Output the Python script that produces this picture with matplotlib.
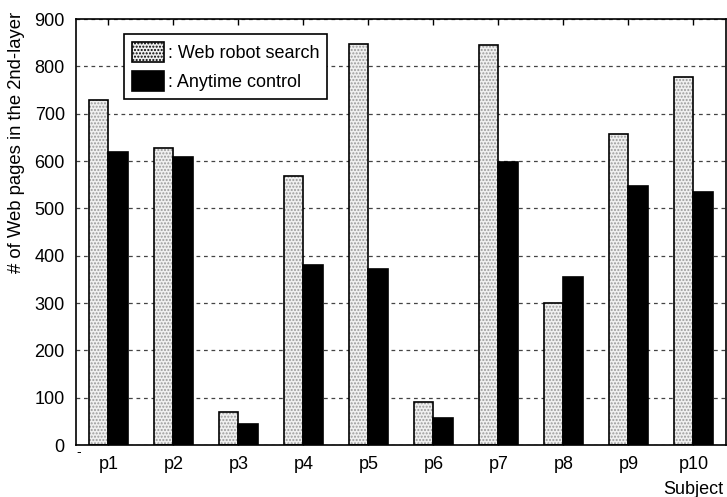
import matplotlib
matplotlib.use("Agg")
import matplotlib.pyplot as plt
from matplotlib.patches import Patch
import numpy as np

plt.rcParams['font.family'] = ['Liberation Sans', 'DejaVu Sans']

subjects = ['p1', 'p2', 'p3', 'p4', 'p5', 'p6', 'p7', 'p8', 'p9', 'p10']
web_robot = [730, 627, 70, 568, 848, 90, 845, 300, 658, 778]
anytime = [620, 608, 45, 380, 372, 57, 597, 355, 548, 535]
yticks = [0, 100, 200, 300, 400, 500, 600, 700, 800, 900]

FS = 13

fig = plt.figure(figsize=(7.27, 4.97), dpi=100)
ax = fig.add_axes([0.1045, 0.1046, 0.894, 0.857])

x = np.arange(1, len(subjects) + 1)
w = 0.3

# stippled fill for the search bars, then black outlines on top
ax.bar(x - w / 2, web_robot, w, color='#f0f0f0', hatch='.....',
       edgecolor='#9a9a9a', linewidth=0, zorder=3)
ax.bar(x - w / 2, web_robot, w, fill=False, edgecolor='black',
       linewidth=1.2, zorder=4)
ax.bar(x + w / 2, anytime, w, color='black', edgecolor='black',
       linewidth=1.2, zorder=4)

ax.set_xlim(0.5, 10.5)
ax.set_ylim(0, 900)
ax.set_xticks(x)
ax.set_xticklabels(subjects, fontsize=FS)
ax.set_yticks(yticks)
ax.set_yticklabels([str(v) for v in yticks], fontsize=FS)
ax.tick_params(axis='x', direction='in', top=True, bottom=True, length=4,
               width=1, pad=8)
ax.tick_params(axis='y', direction='in', left=True, right=False, length=0,
               pad=8)
ax.yaxis.grid(True, linestyle=(0, (3, 3)), color='#444444', linewidth=0.9,
              zorder=1)
ax.set_axisbelow(True)
for s in ax.spines.values():
    s.set_linewidth(1.2)
    s.set_zorder(5)

fig.text(17 / 727, 1 - 12 / 497, '# of Web pages in the 2nd-layer',
         rotation=90, ha='center', va='top', fontsize=13.3)
fig.text(723 / 727, 1 - 494 / 497, 'Subject', ha='right', va='baseline',
         fontsize=FS)
fig.text(79 / 727, 1 - 452 / 497, '-', ha='center', va='center',
         fontsize=10)

h1 = Patch(facecolor='#f0f0f0', hatch='.....', edgecolor='black',
           linewidth=1.2)
h2 = Patch(facecolor='black', edgecolor='black', linewidth=1.2)
leg = ax.legend([h1, h2], [': Web robot search', ': Anytime control'],
                loc='upper left', bbox_to_anchor=(0.074, 0.965),
                prop={'size': FS}, fancybox=False, framealpha=1,
                edgecolor='black', handlelength=1.77, handleheight=1.3,
                handletextpad=0.2, borderpad=0.45, labelspacing=0.5,
                borderaxespad=0)
leg.get_frame().set_linewidth(1.2)
leg.set_zorder(6)

fig.savefig('out.png', dpi=100)
